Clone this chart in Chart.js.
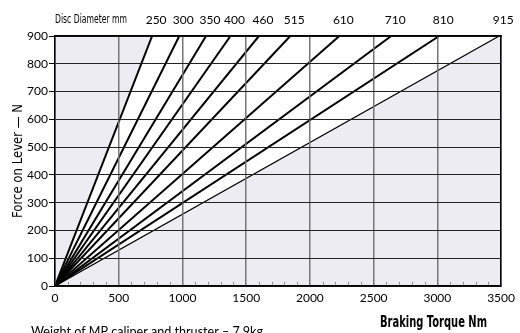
<!DOCTYPE html>
<html><head><meta charset="utf-8">
<script src="https://cdn.jsdelivr.net/npm/chart.js@4.4.0/dist/chart.umd.min.js"></script>
<style>html,body{margin:0;padding:0;background:#fff}#w{width:520px;height:333px;position:relative}</style>
</head><body><div id="w"><canvas id="c" width="520" height="333"></canvas></div>
<script>
// Disc diameters (mm) and the braking torque (Nm) each line reaches at the maximum lever force
const diameters = ['250','300','350','400','460','515','610','710','810','915'];
const torqueAtMaxForce = [762, 975, 1185, 1377, 1600, 1846, 2231, 2638, 3015, 3485];
const maxForce = 900;
const xTickValues = [0, 500, 1000, 1500, 2000, 2500, 3000, 3500];
const yTickValues = [0, 100, 200, 300, 400, 500, 600, 700, 800, 900];
const xMinorStep = 100;
const xTitle = 'Braking Torque Nm';
const yTitle = 'Force on Lever — N';
const topTitle = 'Disc Diameter mm';
const note = 'Weight of MP caliper and thruster – 7.9kg';

const SHADE = '#ECECF2';
const COND = '"DejaVu Sans", sans-serif';
const TICKF = 'Lato, "Open Sans", sans-serif';

const datasets = diameters.map((d, i) => {
  const last = i === diameters.length - 1;
  const ds = {
    label: d + ' mm',
    data: [{x: 0, y: 0}, {x: torqueAtMaxForce[i], y: maxForce}],
    showLine: true,
    borderColor: '#000',
    borderWidth: last ? 1.2 : 2,
    pointRadius: 0,
    fill: false
  };
  if (i === 0) { ds.fill = 'end'; ds.backgroundColor = SHADE; }
  if (last) { ds.fill = 'end'; ds.backgroundColor = '#ffffff'; }
  return ds;
});

// draw text squeezed horizontally to a given width (condensed look)
function fitText(ctx, text, font, x, y, width, align, rot) {
  ctx.save();
  ctx.font = font;
  const w = ctx.measureText(text).width;
  const s = Math.min(1, width / w);
  ctx.translate(x, y);
  if (rot) ctx.rotate(rot);
  ctx.scale(s, 1);
  ctx.textAlign = align;
  ctx.textBaseline = 'middle';
  ctx.fillStyle = '#000';
  ctx.fillText(text, 0, 0);
  ctx.restore();
}

const bgPlugin = {
  id: 'bg',
  beforeDraw(chart) {
    const {ctx, chartArea: a} = chart;
    ctx.save();
    ctx.fillStyle = SHADE;
    ctx.fillRect(a.left, a.top, a.right - a.left, a.bottom - a.top);
    ctx.restore();
  },
  afterDraw(chart) {
    const {ctx, chartArea: a, scales} = chart;
    // minor ticks along the bottom axis
    ctx.save();
    ctx.strokeStyle = '#888';
    ctx.lineWidth = 1;
    const xs = scales.x;
    for (let v = xs.min + xMinorStep; v < xs.max; v += xMinorStep) {
      if (v % 500 === 0) continue;
      const px = Math.round(xs.getPixelForValue(v)) + 0.5;
      ctx.beginPath();
      ctx.moveTo(px, a.bottom - 4);
      ctx.lineTo(px, a.bottom - 1.5);
      ctx.stroke();
    }
    ctx.restore();
    fitText(ctx, topTitle, '12px ' + COND, 55, 20, 72, 'left');
    fitText(ctx, xTitle, '600 15px ' + COND, 487, 323, 107, 'right');
    fitText(ctx, yTitle, '14px ' + COND, 18, (a.top + a.bottom) / 2, 114, 'center', -Math.PI / 2);
    fitText(ctx, note, '14px ' + TICKF, 31, 331, 232, 'left');
  }
};

new Chart(document.getElementById('c'), {
  type: 'scatter',
  data: {datasets},
  options: {
    responsive: false,
    devicePixelRatio: 1,
    animation: false,
    layout: {padding: 0},
    plugins: {legend: {display: false}, tooltip: {enabled: false}},
    scales: {
      x: {
        type: 'linear', position: 'bottom', min: 0, max: 3500,
        afterBuildTicks: s => { s.ticks = xTickValues.map(v => ({value: v})); },
        afterFit: s => { s.height = 47; },
        ticks: {z: 3, callback: v => String(v), color: '#000', font: {family: TICKF, size: 12}, padding: 5, maxRotation: 0, autoSkip: false},
        grid: {z: 1, color: '#777', lineWidth: 1.5, drawTicks: false},
        border: {z: 2, color: '#000', width: 1.5}
      },
      x2: {
        type: 'linear', position: 'top', min: 0, max: 3500,
        afterBuildTicks: s => { s.ticks = torqueAtMaxForce.map(v => ({value: v})); },
        afterFit: s => { s.height = 36; },
        ticks: {z: 3, callback: (v, i) => diameters[i], color: '#000', font: {family: TICKF, size: 12}, padding: 9, labelOffset: 4, maxRotation: 0, autoSkip: false},
        grid: {display: false, drawOnChartArea: false, drawTicks: false},
        border: {z: 2, color: '#000', width: 1.5}
      },
      y: {
        type: 'linear', position: 'left', min: 0, max: 900,
        afterBuildTicks: s => { s.ticks = yTickValues.map(v => ({value: v})); },
        afterFit: s => { s.width = 55; },
        ticks: {z: 3, callback: v => String(v), color: '#000', font: {family: TICKF, size: 12}, padding: 1, autoSkip: false},
        grid: {z: 1, color: '#222', lineWidth: 1, tickLength: 6, tickColor: '#000'},
        border: {z: 2, color: '#000', width: 1.5}
      },
      y2: {
        type: 'linear', position: 'right', min: 0, max: 900,
        afterFit: s => { s.width = 10; },
        ticks: {display: false},
        grid: {display: false, drawOnChartArea: false},
        border: {z: 2, color: '#000', width: 1.5}
      }
    }
  },
  plugins: [bgPlugin]
});
</script>
</body></html>
